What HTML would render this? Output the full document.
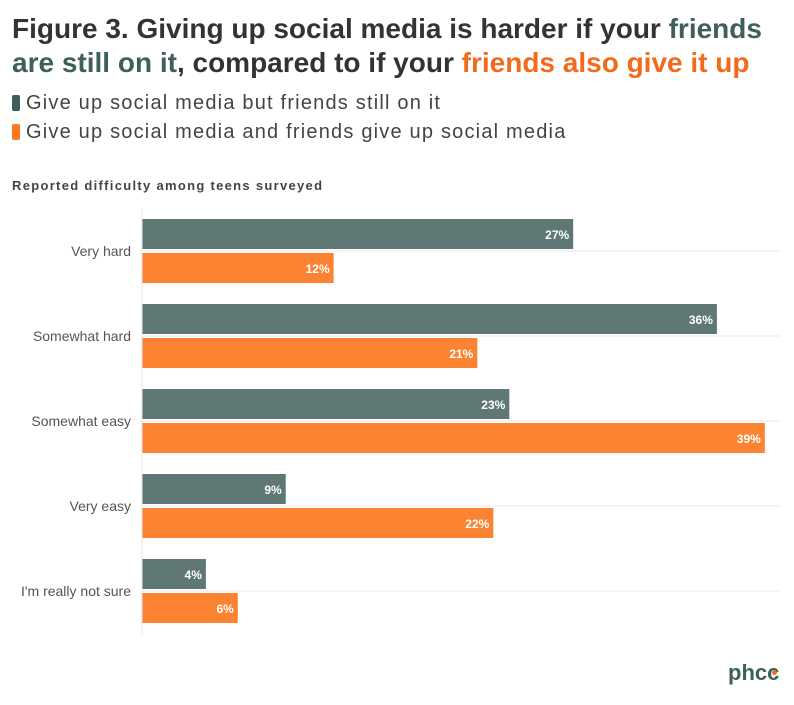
<!DOCTYPE html>
<html><head><meta charset="utf-8"><style>
body{margin:0;width:794px;height:705px;background:#fff;font-family:"Liberation Sans",sans-serif;overflow:hidden;position:relative}
.t{position:absolute;left:12px;top:12px;font-size:28px;font-weight:bold;line-height:34px;color:#333;letter-spacing:0px;white-space:nowrap}
.leg{position:absolute;left:12px;font-size:20px;color:#444;letter-spacing:1.2px;white-space:nowrap}
.sw{display:inline-block;width:8px;height:16px;border-radius:2px;margin-right:6px;vertical-align:-2px}
.sub{position:absolute;left:12px;top:178px;font-size:13px;font-weight:bold;color:#444;letter-spacing:1.3px}
</style></head><body>
<div class="t">Figure 3. Giving up social media is harder if your <span style="color:#3f5f5c">friends<br>are still on it</span>, compared to if your <span style="color:#f26a1b">friends also give it up</span></div>
<div class="leg" style="top:92px"><span class="sw" style="background:#3f5f5c"></span>Give up social media but friends still on it</div>
<div class="leg" style="top:121px"><span class="sw" style="background:#fb7a1e"></span>Give up social media and friends give up social media</div>
<div class="sub">Reported difficulty among teens surveyed</div>
<svg id="c" width="794" height="705" style="position:absolute;left:0;top:0"></svg>
<div style="position:absolute;left:728px;top:660px;font-size:22px;font-weight:bold;color:#3f5f5c">phcc<span style="position:absolute;left:44px;top:10px;width:5px;height:5px;border-radius:50%;background:#f26a1b"></span></div>
<script>
const categories=["Very hard","Somewhat hard","Somewhat easy","Very easy","I'm really not sure"];
const friendsStillOn=[27,36,23,9,4];
const friendsGiveUp=[12,21,39,22,6];
const svg=document.getElementById('c');
const NS="http://www.w3.org/2000/svg";
const x0=142,pxPer=15.97;
const xs=v=>x0+v*pxPer;
const yc=i=>251+i*85;
function mk(t,a){const e=document.createElementNS(NS,t);for(const k in a)e.setAttribute(k,a[k]);svg.appendChild(e);return e;}
categories.forEach((c,i)=>{
  const g=mk('line',{x1:x0,x2:780,y1:yc(i),y2:yc(i),stroke:'#eaeaea','stroke-width':1});
  
  
  const l=mk('text',{x:131,y:yc(i)+5,'text-anchor':'end','font-size':14,fill:'#555','font-family':'Liberation Sans, sans-serif'});
  l.textContent=c;
  
  
  [[friendsStillOn,'#5f7876',-32],[friendsGiveUp,'#fb8332',2]].forEach(([arr,col,off],s)=>{
    const v=arr[i];
    const r=mk('rect',{x:x0,y:yc(i)+off,width:xs(v)-x0,height:30,fill:col});
    
    
    const t=mk('text',{x:xs(v)-4,y:yc(i)+off+20,'text-anchor':'end','font-size':12,'font-weight':'bold',fill:'#fff','font-family':'Liberation Sans, sans-serif'});
    t.textContent=v+'%';
    
    
  });
});
const ax=mk('line',{x1:x0,x2:x0,y1:208,y2:635,stroke:'#e6e6e6','stroke-width':1});


</script>
</body></html>
